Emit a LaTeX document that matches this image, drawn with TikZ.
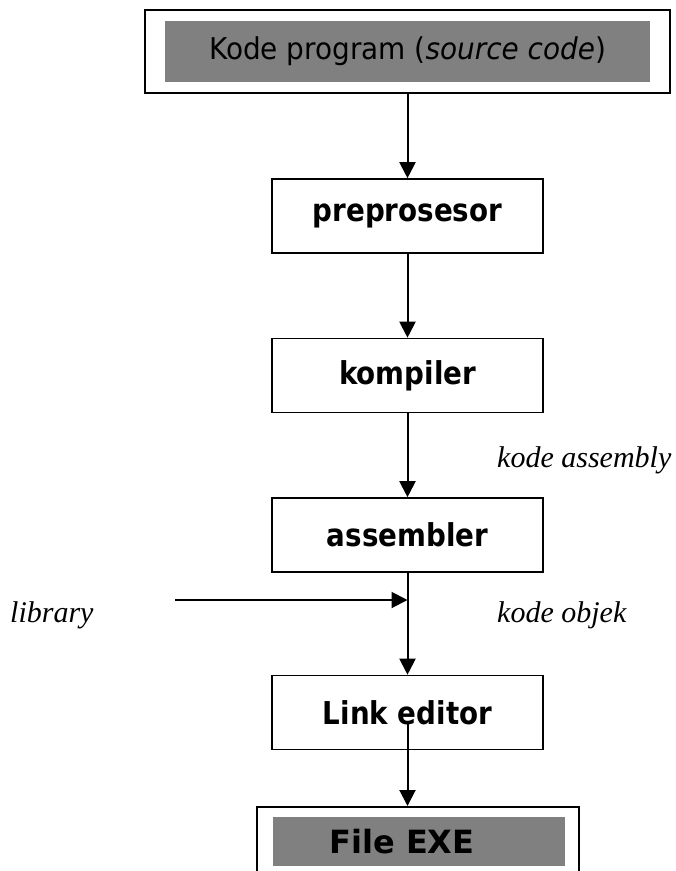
\documentclass[tikz,border=0pt]{standalone}
\usepackage{fontspec}
\setmainfont{DejaVu Sans}
\newfontfamily\boxfont{DejaVu Sans}[FakeStretch=0.88]
\newfontfamily\srcfont{DejaVu Sans}[FakeStretch=0.93]
\newfontfamily\serifit{Liberation Serif}[ItalicFont=* Italic]
\usetikzlibrary{arrows.meta,calc}
\begin{document}
\begin{tikzpicture}[x=1pt,y=-1pt,
  stepbox/.style={draw,line width=1.6pt,minimum width=271pt,minimum height=74pt,
    inner sep=0pt,font=\boxfont\fontsize{31.5}{36}\selectfont\bfseries},
  frame/.style={draw,line width=2.2pt,inner sep=0pt},
  shade/.style={fill=black!50,inner sep=0pt},
  flow/.style={line width=2pt,-{Triangle[width=16pt,length=16pt]}},
  note/.style={anchor=west,inner sep=0pt,font=\serifit\itshape\fontsize{30}{35}\selectfont}]
\useasboundingbox (0,0) rectangle (676,871);
\clip (0,0) rectangle (676,871);
% top box
\node[frame,minimum width=525pt,minimum height=83pt] (src) at (407.5,51.5) {};
\node[shade,minimum width=485pt,minimum height=61pt,font=\srcfont\fontsize{30}{35}\selectfont]
  (srcfill) at (407.5,51.5) {Kode program (\textit{source code})};
% steps
\node[stepbox] (pre)  at (407.5,216) {preprosesor};
\node[stepbox] (komp) at (407.5,375.5) {kompiler};
\node[stepbox] (asm)  at (407.5,535) {assembler};
\node[stepbox] (link) at (407.5,712.5) {Link editor};
% bottom box
\node[frame,minimum width=322pt,minimum height=80pt,anchor=north] (exe) at (418,806) {};
\node[shade,minimum width=292pt,minimum height=49pt,font=\fontsize{32}{37}\selectfont\bfseries]
  (exefill) at (419,841.5) {\hspace*{-34pt}File EXE};
% arrows
\draw[flow] (src.south) -- (pre.north);
\draw[flow] (pre.south) -- (komp.north);
\draw[flow] (komp.south) -- (asm.north);
\draw[flow] (asm.south) -- (link.north);
\coordinate (lk) at ([yshift=-10pt]link.center);
\draw[flow] (lk) -- (lk |- exe.north);
\coordinate (libstart) at (175,600);
\draw[flow] (libstart) -- (libstart -| asm.south);
% labels
\node[note] (lkasm) at (497,460) {kode assembly};
\node[note] (llib) at (10,615) {library};
\node[note] (lobj) at (497,615) {kode objek};
\end{tikzpicture}
\end{document}
